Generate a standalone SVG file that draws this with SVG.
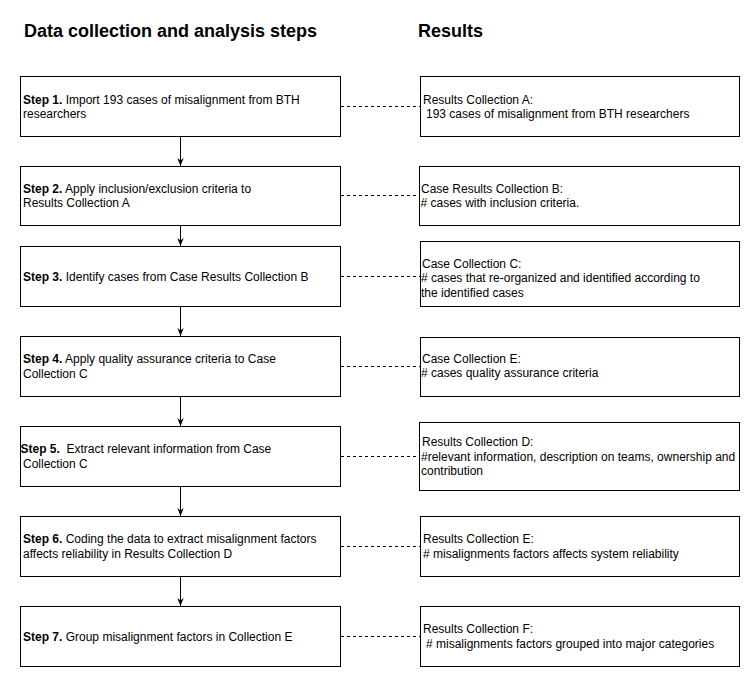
<svg xmlns="http://www.w3.org/2000/svg" width="752" height="677" viewBox="0 0 752 677">
<defs>
<style>
.box{fill:#fff;stroke:#000;stroke-width:1}
.t{font-family:"Liberation Sans",Arial,sans-serif;font-size:12px;fill:#000}
.b{font-weight:bold}
.h{font-family:"Liberation Sans",Arial,sans-serif;font-size:18px;font-weight:bold;fill:#000}
.arrow{stroke:#000;stroke-width:1;fill:none;marker-end:url(#ah)}
.dash{stroke:#000;stroke-width:1;fill:none;stroke-dasharray:3 3}
</style>
<marker id="ah" viewBox="0 0 10 10" refX="10" refY="5" markerWidth="8" markerHeight="8" markerUnits="userSpaceOnUse" orient="auto">
<path d="M0,1 L10,5 L0,9 L3,5 Z" fill="#000"/>
</marker>
</defs>
<rect width="752" height="677" fill="#fff"/>
<g id="headings">
<text class="h" x="24" y="37">Data collection and analysis steps</text>
<text class="h" x="418" y="37">Results</text>
</g>
<g id="connectors">
<line class="arrow" x1="180.5" y1="136.5" x2="180.5" y2="166"/>
<line class="arrow" x1="180.5" y1="225.5" x2="180.5" y2="246"/>
<line class="arrow" x1="180.5" y1="306.5" x2="180.5" y2="336"/>
<line class="arrow" x1="180.5" y1="396.5" x2="180.5" y2="426"/>
<line class="arrow" x1="180.5" y1="486.5" x2="180.5" y2="516"/>
<line class="arrow" x1="180.5" y1="576.5" x2="180.5" y2="606"/>
<line class="dash" x1="341" y1="106.5" x2="420" y2="106.5"/>
<line class="dash" x1="341" y1="195.5" x2="419" y2="195.5"/>
<line class="dash" x1="341" y1="276.5" x2="420" y2="276.5"/>
<line class="dash" x1="341" y1="366.5" x2="420" y2="366.5"/>
<line class="dash" x1="341" y1="456.5" x2="419" y2="456.5"/>
<line class="dash" x1="341" y1="546.5" x2="420" y2="546.5"/>
<line class="dash" x1="341" y1="636.5" x2="420" y2="636.5"/>
</g>
<g id="step1">
<rect class="box" x="20.5" y="76.5" width="320" height="60"/>
<text class="t" x="23" y="103.5"><tspan class="b">Step 1.</tspan> Import 193 cases of misalignment from BTH</text>
<text class="t" x="23" y="118">researchers</text>
</g>
<g id="step2">
<rect class="box" x="20.5" y="166.5" width="320" height="59"/>
<text class="t" x="23" y="192.5"><tspan class="b">Step 2.</tspan> Apply inclusion/exclusion criteria to</text>
<text class="t" x="23" y="207">Results Collection A</text>
</g>
<g id="step3">
<rect class="box" x="20.5" y="246.5" width="320" height="60"/>
<text class="t" x="23" y="280.5"><tspan class="b">Step 3.</tspan> Identify cases from Case Results Collection B</text>
</g>
<g id="step4">
<rect class="box" x="20.5" y="336.5" width="320" height="60"/>
<text class="t" x="23" y="363"><tspan class="b">Step 4.</tspan> Apply quality assurance criteria to Case</text>
<text class="t" x="23" y="377.5">Collection C</text>
</g>
<g id="step5">
<rect class="box" x="20.5" y="426.5" width="320" height="60"/>
<text class="t" x="20.5" y="453" xml:space="preserve"><tspan class="b">Step 5.</tspan>  Extract relevant information from Case</text>
<text class="t" x="23" y="467.5">Collection C</text>
</g>
<g id="step6">
<rect class="box" x="20.5" y="516.5" width="320" height="60"/>
<text class="t" x="23" y="543"><tspan class="b">Step 6.</tspan> Coding the data to extract misalignment factors</text>
<text class="t" x="23" y="557.5">affects reliability in Results Collection D</text>
</g>
<g id="step7">
<rect class="box" x="20.5" y="606.5" width="320" height="60"/>
<text class="t" x="23" y="640.5"><tspan class="b">Step 7.</tspan> Group misalignment factors in Collection E</text>
</g>
<g id="resultA">
<rect class="box" x="420.5" y="76.5" width="319" height="60"/>
<text class="t" x="423" y="103.5">Results Collection A:</text>
<text class="t" x="426" y="118">193 cases of misalignment from BTH researchers</text>
</g>
<g id="resultB">
<rect class="box" x="419.5" y="166.5" width="320" height="59"/>
<text class="t" x="421" y="192.5">Case Results Collection B:</text>
<text class="t" x="420.5" y="207"># cases with inclusion criteria.</text>
</g>
<g id="resultC">
<rect class="box" x="420.5" y="241.5" width="319" height="65"/>
<text class="t" x="422" y="267.5">Case Collection C:</text>
<text class="t" x="421" y="282"># cases that re-organized and identified according to</text>
<text class="t" x="421" y="296.5">the identified cases</text>
</g>
<g id="resultE1">
<rect class="box" x="420.5" y="337.5" width="319" height="59"/>
<text class="t" x="422" y="362.5">Case Collection E:</text>
<text class="t" x="421" y="377"># cases quality assurance criteria</text>
</g>
<g id="resultD">
<rect class="box" x="419.5" y="422.5" width="320" height="68"/>
<text class="t" x="422" y="446">Results Collection D:</text>
<text class="t" x="421" y="460.5">#relevant information, description on teams, ownership and</text>
<text class="t" x="421" y="475">contribution</text>
</g>
<g id="resultE2">
<rect class="box" x="420.5" y="516.5" width="319" height="60"/>
<text class="t" x="423" y="543">Results Collection E:</text>
<text class="t" x="423" y="557.5"># misalignments factors affects system reliability</text>
</g>
<g id="resultF">
<rect class="box" x="420.5" y="606.5" width="319" height="60"/>
<text class="t" x="423" y="633">Results Collection F:</text>
<text class="t" x="426" y="647.5"># misalignments factors grouped into major categories</text>
</g>
</svg>
